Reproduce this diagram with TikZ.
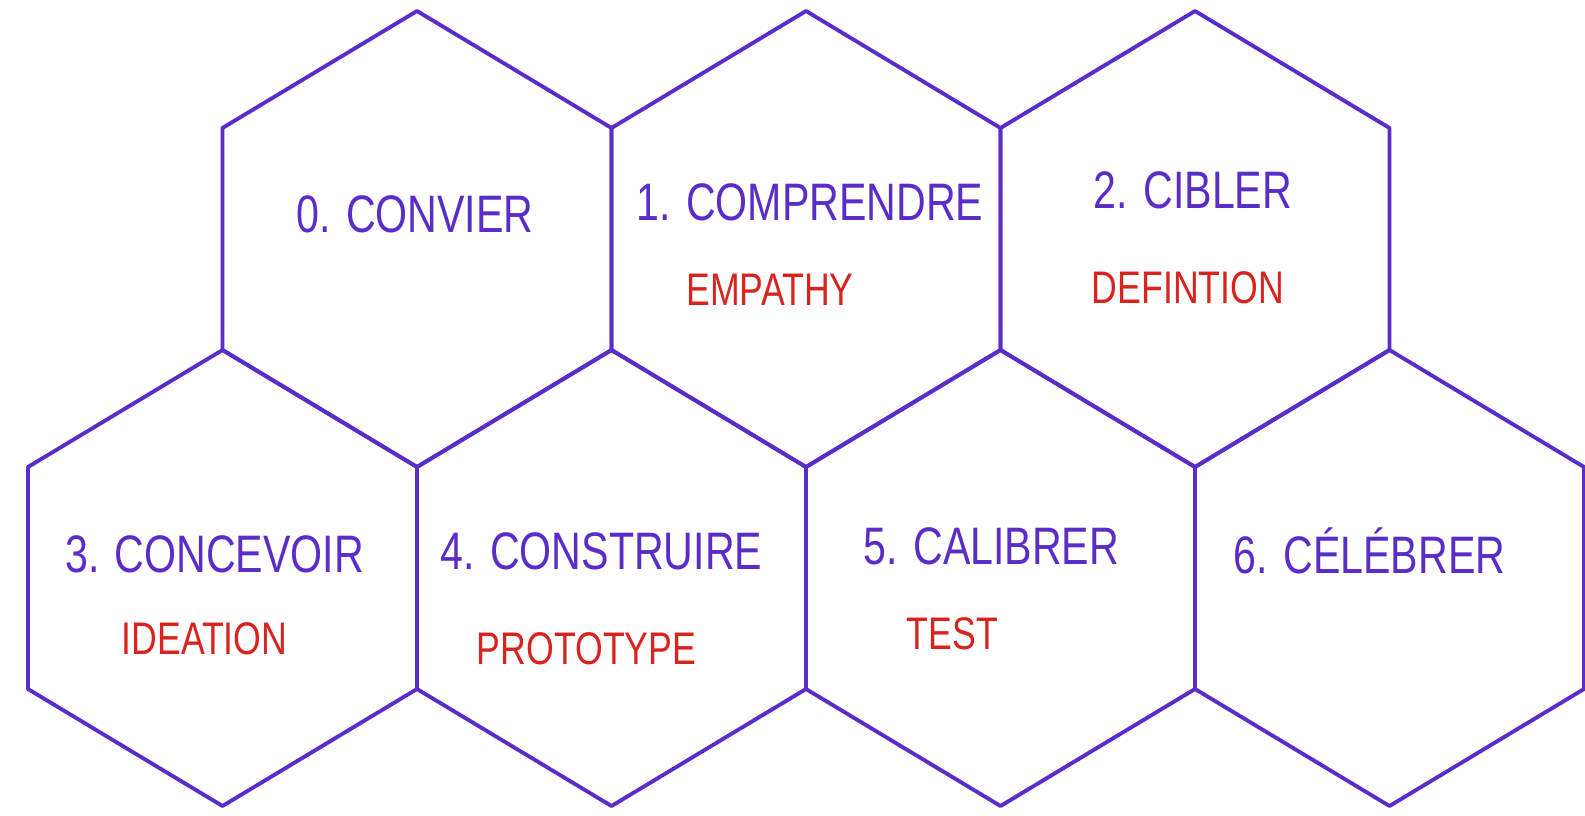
\documentclass[tikz,border=0pt]{standalone}
\usepackage{fontspec}
\setmainfont[FakeStretch=0.78]{Liberation Sans}
\usepackage{xcolor}
\usepackage{tikz}
\usetikzlibrary{
    positioning,
}

\definecolor{hexviolet}{HTML}{5A2DC8}
\definecolor{tagred}{HTML}{D8231F}

\begin{document}
\begin{tikzpicture}[
        x=0.01cm, y=-0.01cm,
        hexline/.style={draw=hexviolet, line width=1.1pt, line join=round},
        hexcell/.pic={
            \path[hexline] (0,-228) -- (194.5,-111) -- (194.5,111) -- (0,228)
                -- (-194.5,111) -- (-194.5,-111) -- cycle;
        },
        title/.style={text=hexviolet, inner sep=0pt, font=\fontsize{15}{18}\selectfont},
        tag/.style={text=tagred, inner sep=0pt, font=\fontsize{13}{16}\selectfont},
    ]

    \useasboundingbox (0,0) rectangle (1585,815);

    % ── Top row ──
    \coordinate (convier) at (417,239);
    \coordinate (comprendre) at (806,239);
    \coordinate (cibler) at (1195,239);

    % ── Bottom row ──
    \coordinate (concevoir) at (222.5,578);
    \coordinate (construire) at (611.5,578);
    \coordinate (calibrer) at (1000.5,578);
    \coordinate (celebrer) at (1389.5,578);

    % ── Cells ──
    \pic (cell0) at (convier) {hexcell};
    \pic (cell1) at (comprendre) {hexcell};
    \pic (cell2) at (cibler) {hexcell};
    \pic (cell3) at (concevoir) {hexcell};
    \pic (cell4) at (construire) {hexcell};
    \pic (cell5) at (calibrer) {hexcell};
    \pic (cell6) at (celebrer) {hexcell};

    % ── Stage names ──
    \node[title] (convier-t) at ([shift={(-2,-25)}]convier) {0. CONVIER};
    \node[title] (comprendre-t) at ([shift={(4,-37)}]comprendre) {1. COMPRENDRE};
    \node[title] (cibler-t) at ([shift={(-2,-49)}]cibler) {2. CIBLER};
    \node[title] (concevoir-t) at ([shift={(-8,-24)}]concevoir) {3. CONCEVOIR};
    \node[title] (construire-t) at ([shift={(-10,-27)}]construire) {4. CONSTRUIRE};
    \node[title] (calibrer-t) at ([shift={(-9,-32)}]calibrer) {5. CALIBRER};
    \node[title] (celebrer-t) at ([shift={(-20,-27)}]celebrer) {6. CÉLÉBRER};

    % ── Design-thinking tags ──
    \node[tag] (comprendre-s) at ([shift={(-36,51)}]comprendre) {EMPATHY};
    \node[tag] (cibler-s) at ([shift={(-7,49)}]cibler) {DEFINTION};
    \node[tag] (concevoir-s) at ([shift={(-18,61)}]concevoir) {IDEATION};
    \node[tag] (construire-s) at ([shift={(-25,71)}]construire) {PROTOTYPE};
    \node[tag] (calibrer-s) at ([shift={(-48,56)}]calibrer) {TEST};

\end{tikzpicture}
\end{document}
